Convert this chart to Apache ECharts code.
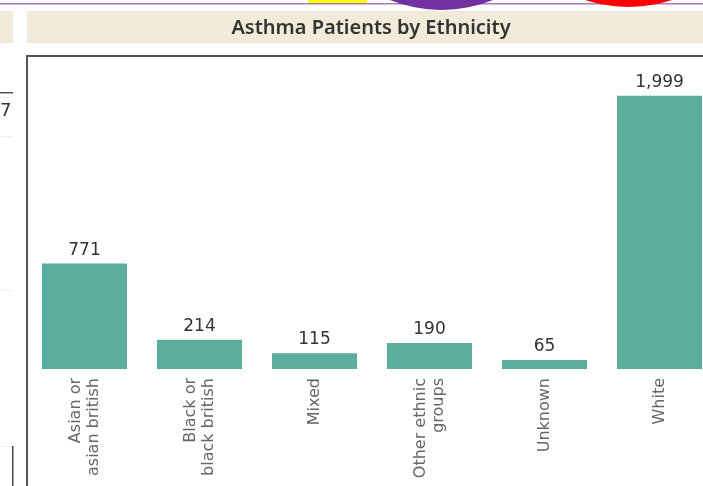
<!DOCTYPE html>
<html>
<head>
<meta charset="utf-8">
<script src="https://cdn.jsdelivr.net/npm/echarts@6/dist/echarts.min.js"></script>
<style>
  html, body { margin: 0; padding: 0; background: #fff; }
  #chart { width: 703px; height: 486px; }
</style>
</head>
<body>
<div id="chart"></div>
<script>
// ethnicity groups and patient counts
const categories = [
  'Asian or\nasian british',
  'Black or\nblack british',
  'Mixed',
  'Other ethnic\ngroups',
  'Unknown',
  'White'
]
const patients = [771, 214, 115, 190, 65, 1999]

const chart = echarts.init(document.getElementById('chart'))

// bits of the surrounding dashboard (header strip, neighbour panel)
const decor = [
  { type: 'rect', shape: { x: 0, y: 3, width: 703, height: 1.5 }, style: { fill: '#a47cbd' } },
  { type: 'rect', shape: { x: 308, y: 0, width: 59, height: 3 }, style: { fill: '#ffff00' } },
  { type: 'circle', shape: { cx: 441.5, cy: -128, r: 138 }, style: { fill: '#7030a0' } },
  { type: 'circle', shape: { cx: 628.5, cy: -131.5, r: 138.5 }, style: { fill: '#ff0000' } },
  { type: 'rect', shape: { x: 0, y: 11, width: 13, height: 32 }, style: { fill: '#f2ebda' } },
  { type: 'rect', shape: { x: 27, y: 11, width: 676, height: 32 }, style: { fill: '#f2ebda' } },
  {
    type: 'text', x: 371, y: 28,
    style: {
      text: 'Asthma Patients by Ethnicity', fill: '#333',
      font: '600 20px "Noto Sans"', align: 'center', verticalAlign: 'middle'
    }
  },
  // chart frame
  { type: 'rect', shape: { x: 26, y: 55, width: 677, height: 2 }, style: { fill: '#555' } },
  { type: 'rect', shape: { x: 26, y: 55, width: 2, height: 431 }, style: { fill: '#555' } },
  // left neighbour panel fragments
  { type: 'rect', shape: { x: 0, y: 92, width: 13, height: 1.5 }, style: { fill: '#555' } },
  {
    type: 'text', x: 0, y: 111,
    style: { text: '7', fill: '#333', font: '18px "DejaVu Sans"', verticalAlign: 'middle' }
  },
  { type: 'rect', shape: { x: 0, y: 136, width: 12, height: 1 }, style: { fill: '#eee' } },
  { type: 'rect', shape: { x: 0, y: 290, width: 12, height: 1 }, style: { fill: '#eee' } },
  { type: 'rect', shape: { x: 0, y: 446, width: 12, height: 1 }, style: { fill: '#eee' } },
  { type: 'rect', shape: { x: 12, y: 446, width: 1.5, height: 40 }, style: { fill: '#444' } }
]

chart.setOption({
  animation: false,
  grid: { left: 27, width: 690, top: 56, bottom: 117, outerBoundsMode: 'none' },
  xAxis: {
    type: 'category',
    data: categories,
    axisLine: { show: false },
    axisTick: { show: false },
    axisLabel: {
      interval: 0,
      rotate: 90,
      margin: 9,
      color: '#666',
      fontFamily: 'DejaVu Sans',
      fontSize: 16,
      lineHeight: 18
    }
  },
  yAxis: { type: 'value', min: 0, max: 2290, show: false },
  series: [{
    type: 'bar',
    data: patients,
    barWidth: 85,
    itemStyle: { color: '#5bae9e' },
    label: {
      show: true,
      position: 'top',
      distance: 5,
      color: '#333',
      fontFamily: 'DejaVu Sans',
      fontSize: 17,
      formatter: p => p.value.toLocaleString('en-US')
    }
  }],
  graphic: decor
})
</script>
</body>
</html>
